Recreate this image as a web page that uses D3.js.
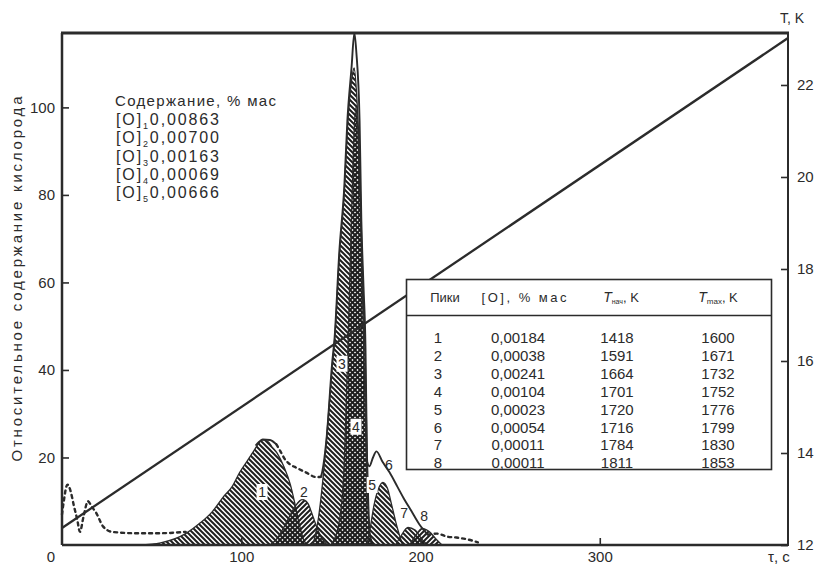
<!DOCTYPE html>
<html lang="ru">
<head>
<meta charset="utf-8">
<script src="https://cdn.jsdelivr.net/npm/d3@7"></script>
<style>
  html, body { margin: 0; padding: 0; background: #fff; }
  svg { display: block; font-family: "Liberation Sans", Arial, sans-serif; }
</style>
</head>
<body>
<svg id="chart" width="814" height="567"></svg>
<script>
// ---- data -------------------------------------------------------------
// time, s (x) ; relative oxygen content (left axis) ; temperature, K (right axis)
const timeTicks = [100, 200, 300];
const oxygenTicks = [20, 40, 60, 80, 100];
const tempTicks = [1200, 1400, 1600, 1800, 2000, 2200];

// furnace temperature vs time
const temperature = [[0, 1237], [405, 2302]];

// overall evolution curve (dashed pieces and solid pieces)
const totalDashedStart = [[0, 7], [1, 10], [3, 13.8], [5, 12], [6.5, 9.2], [8.5, 5.8], [10, 3],
  [12, 6.5], [14.5, 10], [16.5, 8.8], [19, 7.4], [23, 4.2], [28, 3], [40, 2.7], [55, 2.7], [69, 3]];
const totalSolidTop = [[108, 22.7], [110, 23.6], [112, 24.1], [116, 24], [119.6, 23]];
const totalDashedMid = [[119.6, 23], [122, 21.3], [124.5, 19.5], [127, 18.5], [131, 17.6],
  [136, 16.6], [142, 15.5], [144.5, 15.6]];
const totalSolidSpike = [[144.5, 15.6], [145.3, 17], [147.5, 24], [150.8, 42], [152, 47], [154.7, 67],
  [157.5, 82], [159.2, 97], [161.5, 109], [163.1, 117], [164.2, 112.6], [166, 97], [167, 74],
  [168.2, 59], [169.3, 45], [169.8, 30], [170.2, 19], [171.5, 18], [173.5, 20], [175.4, 21.4],
  [178.8, 19], [182.7, 16.6], [187, 13.4], [191, 10.4], [195, 7.7], [199.4, 4.7], [204, 2.4]];
const totalDashedEnd = [[204, 2.4], [209, 2.6], [215, 1.9], [220, 1.7], [226, 1.3], [232, 0.6]];

// separated peaks
const peak1 = [[43, 0], [55, 0.5], [69, 2.6], [77, 5], [84, 7.7], [90, 11], [95, 13.4], [99, 16.5],
  [103, 19], [107, 21.5], [110, 23.4], [112, 24], [115, 23.6], [117, 22.5], [120, 21], [124, 17.7],
  [127.4, 13.8], [130, 9.3], [132.4, 4.7], [135, 1], [137, 0]];
const peak2 = [[116, 0], [120, 1.5], [125, 5], [130, 8.8], [134, 10.4], [137, 9.6], [140, 6.5],
  [142, 4.2], [145, 1.5], [148, 0]];
const peak3 = [[140, 0], [143, 6], [145.3, 14], [147.5, 24], [150.8, 41], [152, 46.5], [154.7, 66],
  [157.5, 81], [159.2, 95], [161.5, 106], [163, 109], [164.5, 102], [166, 88], [167, 72],
  [168.2, 55], [169.3, 40], [170, 25], [171, 10], [172, 0]];
const peak4 = [[150, 0], [154, 4], [157, 15], [159.5, 45], [161.5, 75], [163, 95], [164, 100],
  [165.5, 90], [167, 68], [168.5, 42], [169.5, 24], [170.5, 10], [172, 2], [174, 0]];
const peak5 = [[170, 0], [172, 4], [174, 9], [176.5, 12.8], [179, 14.3], [181.5, 13], [184, 9],
  [187, 4], [190, 0]];
const peak7 = [[186, 0], [189, 2], [193, 4], [197, 3.4], [201, 1.2], [204, 0]];
const peak8 = [[194, 0], [197, 2], [201, 3.8], [205, 3], [209, 1.2], [212, 0]];

// peak number labels: [label, time, value, boxed]
const peakLabels = [["1", 111.6, 12, true], ["2", 135, 12.2, true], ["3", 156.2, 41.3, true],
  ["4", 164, 26.9, true], ["5", 173, 13.6, true], ["6", 182.4, 18.2, false],
  ["7", 190.8, 7.4, false], ["8", 202, 6.7, false]];

// sample composition
const contentTitle = "Содержание, % мас";
const contentIdx = ["1", "2", "3", "4", "5"];
const contentVal = ["0,00863", "0,00700", "0,00163", "0,00069", "0,00666"];

// peak table
const tablePeaks = ["1", "2", "3", "4", "5", "6", "7", "8"];
const tableO = ["0,00184", "0,00038", "0,00241", "0,00104", "0,00023", "0,00054", "0,00011", "0,00011"];
const tableTstart = ["1418", "1591", "1664", "1701", "1720", "1716", "1784", "1811"];
const tableTmax = ["1600", "1671", "1732", "1752", "1776", "1799", "1830", "1853"];

// ---- layout ----------------------------------------------------------
const L = 62, R = 788, T = 33, B = 545;
const ink = "#2b2b2b";
const svg = d3.select("#chart");

const x = d3.scaleLinear().domain([0, 405]).range([L, R]);
const y = d3.scaleLinear().domain([0, 117]).range([B, T]);
const yT = d3.scaleLinear().domain([1200, 2313]).range([B, T]);

// hatch patterns
const defs = svg.append("defs");
function hatch(id, d) {
  defs.append("pattern").attr("id", id).attr("patternUnits", "userSpaceOnUse")
    .attr("width", 5).attr("height", 5)
    .append("path").attr("d", d).attr("stroke", "#1e1e1e").attr("stroke-width", 2);
}
hatch("back", "M0,0L5,5M-1,4L1,6M4,-1L6,1");
hatch("fwd", "M0,5L5,0M-1,1L1,-1M4,6L6,4");

const area = d3.area().x(d => x(d[0])).y0(y(0)).y1(d => y(d[1])).curve(d3.curveMonotoneX);
const line = d3.line().x(d => x(d[0])).y(d => y(d[1])).curve(d3.curveMonotoneX);

const peaks = svg.append("g");
[[peak1, "back"], [peak2, "fwd"], [peak3, "back"], [peak4, "fwd"], [peak5, "back"],
 [peak7, "back"], [peak8, "fwd"]].forEach(([p, pat]) => {
  peaks.append("path").datum(p).attr("d", area).attr("fill", `url(#${pat})`)
    .attr("stroke", ink).attr("stroke-width", 1.3);
});

// overall curve
[totalDashedStart, totalDashedMid, totalDashedEnd].forEach(p => {
  svg.append("path").datum(p).attr("d", line).attr("fill", "none").attr("stroke", ink)
    .attr("stroke-width", 2.4).attr("stroke-dasharray", "3,4").attr("stroke-linecap", "round");
});
[totalSolidTop, totalSolidSpike].forEach(p => {
  svg.append("path").datum(p).attr("d", line).attr("fill", "none").attr("stroke", ink)
    .attr("stroke-width", 1.9).attr("stroke-linejoin", "round");
});

// temperature line
svg.append("path").datum(temperature)
  .attr("d", d3.line().x(d => x(d[0])).y(d => yT(d[1])))
  .attr("fill", "none").attr("stroke", ink).attr("stroke-width", 2.3);

// peak labels
const lab = svg.append("g").attr("font-size", 14).attr("fill", ink).attr("text-anchor", "middle");
peakLabels.forEach(([t, tx, v, boxed]) => {
  if (boxed) lab.append("rect").attr("x", x(tx) - 5.5).attr("y", y(v) - 8.5).attr("width", 11)
    .attr("height", 16).attr("fill", "#fff");
  lab.append("text").attr("x", x(tx)).attr("y", y(v) + 5).text(t);
});

// frame and axes
const frame = svg.append("g").attr("stroke", ink).attr("fill", "none");
frame.append("line").attr("x1", L - 1).attr("x2", R + 1).attr("y1", T).attr("y2", T).attr("stroke-width", 3);
frame.append("line").attr("x1", L).attr("x2", L).attr("y1", T).attr("y2", B).attr("stroke-width", 2.5);
frame.append("line").attr("x1", L).attr("x2", R).attr("y1", B).attr("y2", B).attr("stroke-width", 2.5);
frame.append("line").attr("x1", R).attr("x2", R).attr("y1", T).attr("y2", B + 1).attr("stroke-width", 2);

function style(g) {
  g.select(".domain").remove();
  g.selectAll(".tick line").attr("stroke", ink).attr("stroke-width", 1.6);
  g.selectAll(".tick text").attr("fill", ink).attr("font-size", 15)
    .attr("font-family", "'Liberation Sans', Arial, sans-serif");
}
svg.append("g").attr("transform", `translate(${L},0)`)
  .call(d3.axisLeft(y).tickValues(oxygenTicks).tickSize(-7).tickPadding(7)).call(style);
svg.append("g").attr("transform", `translate(0,${B})`)
  .call(d3.axisBottom(x).tickValues(timeTicks).tickSize(-7).tickPadding(6.5)).call(style);
// temperature ticks labelled in hundreds of kelvin
svg.append("g").attr("transform", `translate(${R},0)`)
  .call(d3.axisRight(yT).tickValues(tempTicks).tickFormat(d => d / 100).tickSize(-7).tickPadding(9))
  .call(style);

const txt = svg.append("g").attr("fill", ink);
txt.append("text").attr("x", L - 7).attr("y", 562).attr("text-anchor", "end").attr("font-size", 15).text("0");
txt.append("text").attr("x", 780).attr("y", 23).attr("font-size", 14).text("T, K");
txt.append("text").attr("x", 768).attr("y", 562).attr("font-size", 15).text("τ, с");
txt.append("text").attr("transform", "translate(22,279) rotate(-90)").attr("text-anchor", "middle")
  .attr("font-size", 15).attr("textLength", 365).attr("lengthAdjust", "spacing")
  .text("Относительное содержание кислорода");

// composition block
txt.append("text").attr("x", 115).attr("y", 106).attr("font-size", 15)
  .attr("textLength", 161).attr("lengthAdjust", "spacing").text(contentTitle);
contentVal.forEach((v, i) => {
  const t = txt.append("text").attr("x", 116).attr("y", 125 + i * 18.3).attr("font-size", 16)
    .attr("textLength", 103).attr("lengthAdjust", "spacing");
  t.append("tspan").text("[O]");
  t.append("tspan").attr("font-size", 9).attr("dy", 4).text(contentIdx[i]);
  t.append("tspan").attr("dy", -4).text(v);
});

// peak table
const tb = svg.append("g").attr("fill", ink);
tb.append("rect").attr("x", 406.5).attr("y", 279.5).attr("width", 365).attr("height", 190)
  .attr("fill", "#fff").attr("stroke", ink).attr("stroke-width", 1.6);
tb.append("line").attr("x1", 406.5).attr("x2", 771.5).attr("y1", 315.5).attr("y2", 315.5)
  .attr("stroke", ink).attr("stroke-width", 1.4);
const cols = [438, 518, 617, 718];
const hdr = tb.append("g").attr("font-size", 13).attr("text-anchor", "middle");
hdr.append("text").attr("x", 445).attr("y", 302).text("Пики");
hdr.append("text").attr("x", 524).attr("y", 302).attr("textLength", 85).attr("lengthAdjust", "spacing").text("[O], % мас");
const h3 = hdr.append("text").attr("x", 621).attr("y", 302);
h3.append("tspan").attr("font-style", "italic").attr("font-size", 14).text("T");
h3.append("tspan").attr("font-size", 7).attr("dy", 2).text("нач");
h3.append("tspan").attr("dy", -2).text(", K");
const h4 = hdr.append("text").attr("x", 718).attr("y", 302);
h4.append("tspan").attr("font-style", "italic").attr("font-size", 14).text("T");
h4.append("tspan").attr("font-size", 8).attr("dy", 2).text("max");
h4.append("tspan").attr("dy", -2).text(", K");
const rows = tb.append("g").attr("font-size", 15).attr("text-anchor", "middle");
tablePeaks.forEach((p, i) => {
  const yy = 343 + i * 17.9;
  [p, tableO[i], tableTstart[i], tableTmax[i]].forEach((v, j) => {
    rows.append("text").attr("x", cols[j]).attr("y", yy).text(v);
  });
});
</script>
</body>
</html>
